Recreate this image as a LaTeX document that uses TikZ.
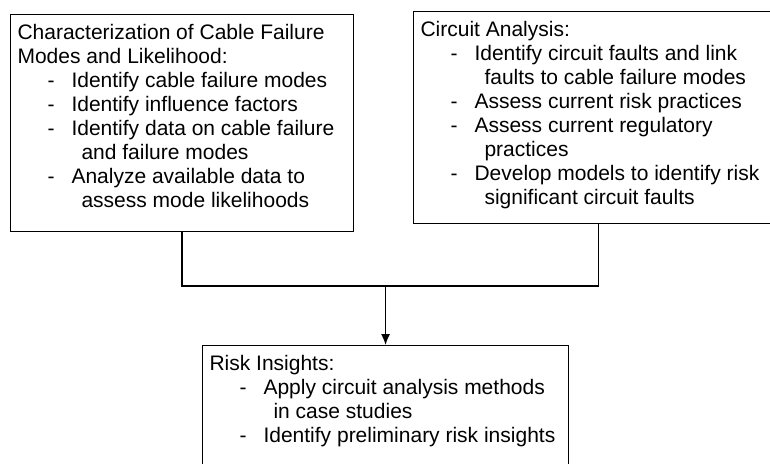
\documentclass[tikz,border=0pt]{standalone}
\usepackage{fontspec}
\setmainfont{Liberation Sans}
\usetikzlibrary{arrows.meta}

\newcommand{\itm}[1]{\hspace*{30pt}\makebox[24pt][l]{-}#1}
\newcommand{\cnt}[1]{\hspace*{64pt}#1}
\newcommand{\boxtext}[3]{\parbox[t][#1][t]{#2}{\raggedright #3}}

\tikzset{
    stagebox/.style={draw, line width=1.1pt, rectangle, anchor=north west,
        inner xsep=7pt, inner ysep=10pt, font=\fontsize{21}{24}\selectfont},
    link/.style={line width=1.3pt}
}

\begin{document}
\begin{tikzpicture}[x=1pt,y=-1pt]
    \useasboundingbox (0,0) rectangle (770,463);
    \clip (0,0) rectangle (770,463);

    \node[stagebox] (cable) at (10,14) {\boxtext{197pt}{329pt}{%
        Characterization of Cable Failure\\
        Modes and Likelihood:\\
        \itm{Identify cable failure modes}\\
        \itm{Identify influence factors}\\
        \itm{Identify data on cable failure}\\
        \cnt{and failure modes}\\
        \itm{Analyze available data to}\\
        \cnt{assess mode likelihoods}}};

    \node[stagebox] (circuit) at (413,11) {\boxtext{192pt}{356pt}{%
        Circuit Analysis:\\
        \itm{Identify circuit faults and link}\\
        \cnt{faults to cable failure modes}\\
        \itm{Assess current risk practices}\\
        \itm{Assess current regulatory}\\
        \cnt{practices}\\
        \itm{Develop models to identify risk}\\
        \cnt{significant circuit faults}}};

    \node[stagebox] (insights) at (202,345) {\boxtext{150pt}{352pt}{%
        Risk Insights:\\
        \itm{Apply circuit analysis methods}\\
        \cnt{in case studies}\\
        \itm{Identify preliminary risk insights}}};

    \coordinate (bus) at (0,286);
    \draw[link] (cable.south) |- (bus -| circuit.south) -- (circuit.south);
    \draw[link,-{Latex[length=11pt,width=9pt]}] (bus -| insights.north) -- (insights.north);
\end{tikzpicture}
\end{document}
